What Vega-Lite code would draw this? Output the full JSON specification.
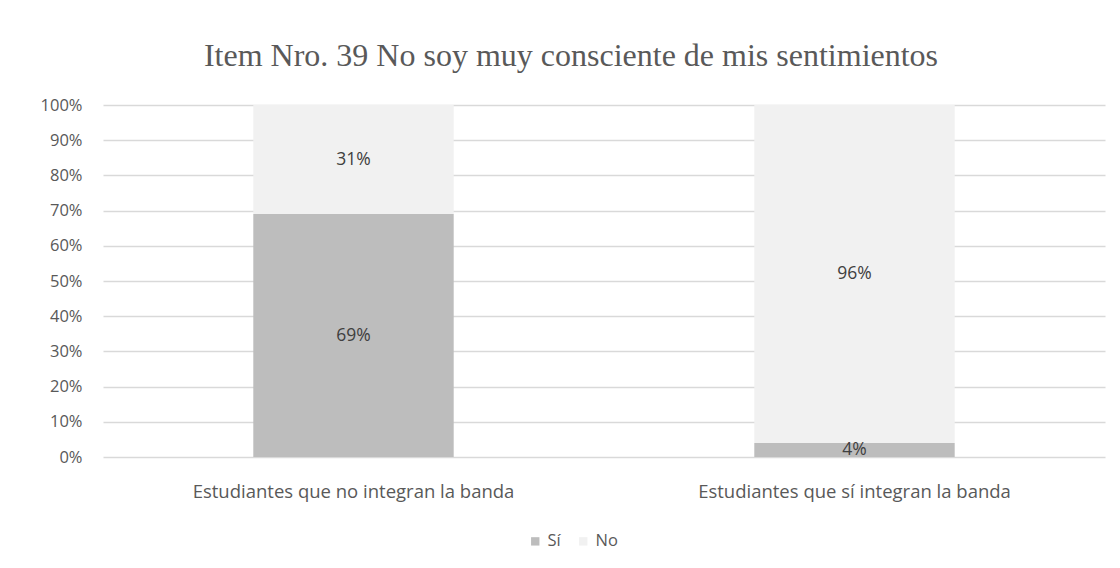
{
  "$schema": "https://vega.github.io/schema/vega-lite/v6.json",
  "autosize": {"type": "none"},
  "width": 1002,
  "height": 352,
  "padding": {"left": 103, "top": 105, "right": 15, "bottom": 111},
  "background": "white",
  "title": {
    "text": "Item Nro. 39 No soy muy consciente de mis sentimientos",
    "font": "Liberation Serif",
    "fontSize": 32,
    "fontWeight": "normal",
    "color": "#595959",
    "anchor": "middle",
    "frame": "group",
    "dx": -33,
    "offset": 24
  },
  "data": {
    "values": [
      {"grupo": "Estudiantes que no integran la banda", "respuesta": "Sí", "valor": 0.69, "orden": 1},
      {"grupo": "Estudiantes que no integran la banda", "respuesta": "No", "valor": 0.31, "orden": 2},
      {"grupo": "Estudiantes que sí integran la banda", "respuesta": "Sí", "valor": 0.04, "orden": 1},
      {"grupo": "Estudiantes que sí integran la banda", "respuesta": "No", "valor": 0.96, "orden": 2}
    ]
  },
  "encoding": {
    "x": {
      "field": "grupo",
      "type": "nominal",
      "sort": null,
      "scale": {"paddingInner": 0.6, "paddingOuter": 0.3},
      "axis": {
        "title": null,
        "labelAngle": 0,
        "labelFont": "Open Sans",
        "labelFontSize": 18.5,
        "labelLimit": 0,
        "labelColor": "#595959",
        "labelPadding": 25,
        "ticks": false,
        "domain": false
      }
    },
    "y": {
      "field": "valor",
      "type": "quantitative",
      "stack": "zero",
      "scale": {"domain": [0, 1]},
      "axis": {
        "title": null,
        "format": ".0%",
        "values": [0, 0.1, 0.2, 0.3, 0.4, 0.5, 0.6, 0.7, 0.8, 0.9, 1],
        "labelFont": "Open Sans",
        "labelFontSize": 16.5,
        "labelColor": "#595959",
        "labelPadding": 21,
        "ticks": false,
        "domain": false,
        "grid": true,
        "gridColor": "#d9d9d9",
        "gridWidth": 1.3
      }
    },
    "order": {"field": "orden", "type": "quantitative"}
  },
  "layer": [
    {
      "mark": {"type": "bar", "strokeWidth": 0},
      "encoding": {
        "color": {
          "field": "respuesta",
          "type": "nominal",
          "scale": {"domain": ["Sí", "No"], "range": ["#bdbdbd", "#f1f1f1"]},
          "legend": {
            "title": null,
            "orient": "none",
            "legendX": 424,
            "legendY": 428,
            "direction": "horizontal",
            "symbolType": "square",
            "symbolSize": 70,
            "symbolStrokeWidth": 0,
            "labelFont": "Open Sans",
            "labelFontSize": 16.5,
            "labelColor": "#595959",
            "columnPadding": 14,
            "labelOffset": 4
          }
        }
      }
    },
    {
      "mark": {"type": "text", "font": "Open Sans", "fontSize": 17.5, "color": "#404040"},
      "encoding": {
        "y": {"field": "valor", "type": "quantitative", "stack": "zero", "bandPosition": 0.5},
        "text": {"field": "valor", "type": "quantitative", "format": ".0%"}
      }
    }
  ],
  "config": {"view": {"stroke": null}}
}
